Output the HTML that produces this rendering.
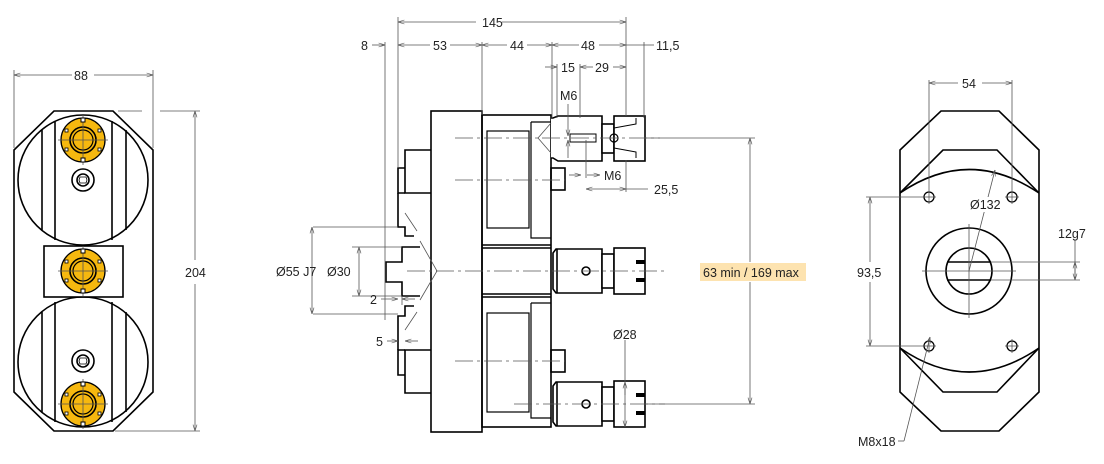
<!DOCTYPE html>
<html><head><meta charset="utf-8"><style>
html,body{margin:0;padding:0;background:#fff}
svg{display:block}
text{font-family:"Liberation Sans",Arial,sans-serif;font-size:12.5px;fill:#222}
.k{stroke:#000;stroke-width:1.6;fill:none}
.kf{stroke:#000;stroke-width:1.6;fill:#fff}
.d{stroke:#555;stroke-width:0.8;fill:none}
.c{stroke:#555;stroke-width:0.8;fill:none;stroke-dasharray:18 4 3 4}
.y{fill:#f6b80f;stroke:#000;stroke-width:1.3}
</style></head><body>
<svg width="1104" height="464" viewBox="0 0 1104 464" xmlns="http://www.w3.org/2000/svg">
<defs>
<marker id="a" viewBox="0 0 8 6" refX="8" refY="3" markerWidth="8" markerHeight="6" orient="auto-start-reverse"><path d="M0,0.5 L8,3 L0,5.5" fill="none" stroke="#555" stroke-width="0.8"/></marker>
<g id="fl">
<circle r="22" class="y"/>
<circle r="13" fill="#f6b80f" stroke="#000" stroke-width="1.6"/>
<circle r="10" fill="#f6b80f" stroke="#000" stroke-width="1.2"/>
<line x1="-25" y1="0" x2="25" y2="0" class="d"/><line x1="0" y1="-25" x2="0" y2="25" class="d"/>
<rect x="-2" y="-22" width="4" height="4" fill="#fff" stroke="#000"/><rect x="-2" y="18" width="4" height="4" fill="#fff" stroke="#000"/>
<rect x="-18" y="-11" width="3" height="3" fill="#fff" stroke="#000" stroke-width="0.8"/><rect x="15" y="-11" width="3" height="3" fill="#fff" stroke="#000" stroke-width="0.8"/>
<rect x="-18" y="8" width="3" height="3" fill="#fff" stroke="#000" stroke-width="0.8"/><rect x="15" y="8" width="3" height="3" fill="#fff" stroke="#000" stroke-width="0.8"/>
</g>
<g id="bolt"><circle r="11" class="k"/><circle r="6" class="k" stroke-width="1"/><path d="M-3,-3 L3,-3 L4,0 L3,3 L-3,3 L-4,0Z" fill="none" stroke="#000" stroke-width="0.8"/></g>
<g id="tool">
<path class="kf" d="M556,-22 L602,-22 L602,22 L556,22 L553,18 L553,-18Z"/>
<line x1="557" y1="-22" x2="557" y2="22" class="k" stroke-width="1"/>
<rect x="602" y="-17" width="12" height="34" class="kf"/>
<rect x="614" y="-23" width="31" height="46" class="kf"/>
<rect x="636" y="-11" width="9" height="4" fill="#000"/><rect x="636" y="7" width="9" height="4" fill="#000"/>
<circle cx="586" cy="0" r="4" class="k" stroke-width="1.3"/>
</g>
</defs>

<!-- LEFT VIEW -->
<path class="k" d="M54,111 L113,111 L153,150 L153,392 L113,431 L54,431 L14,392 L14,150Z"/>
<circle cx="83" cy="180" r="65" class="k"/>
<circle cx="83" cy="362" r="65" class="k"/>
<g class="k"><line x1="42" y1="130" x2="42" y2="230"/><line x1="55" y1="121" x2="55" y2="240"/><line x1="112" y1="121" x2="112" y2="240"/><line x1="126" y1="130" x2="126" y2="230"/>
<line x1="42" y1="312" x2="42" y2="412"/><line x1="55" y1="302" x2="55" y2="422"/><line x1="112" y1="302" x2="112" y2="422"/><line x1="126" y1="312" x2="126" y2="412"/></g>
<rect x="44" y="246" width="79" height="51" class="kf"/>
<use href="#fl" x="83" y="140"/><use href="#fl" x="83" y="271"/><use href="#fl" x="83" y="404"/>
<use href="#bolt" x="83" y="180"/><use href="#bolt" x="83" y="361"/>
<g class="d"><line x1="14" y1="70" x2="14" y2="148"/><line x1="153" y1="70" x2="153" y2="148"/>
<line x1="14" y1="75" x2="72" y2="75" marker-start="url(#a)"/><line x1="94" y1="75" x2="153" y2="75" marker-end="url(#a)"/>
<line x1="118" y1="111" x2="142" y2="111"/><line x1="160" y1="111" x2="200" y2="111"/><line x1="115" y1="431" x2="200" y2="431"/>
<line x1="195" y1="111" x2="195" y2="260" marker-start="url(#a)"/><line x1="195" y1="284" x2="195" y2="431" marker-end="url(#a)"/></g>
<text x="74" y="80">88</text><text x="185" y="277">204</text>

<!-- MIDDLE VIEW -->
<g class="k">
<rect x="431" y="111" width="51" height="321"/>
<rect x="482" y="115" width="69" height="312"/>
<line x1="482" y1="245" x2="551" y2="245"/><line x1="482" y1="248" x2="551" y2="248"/>
<line x1="482" y1="294" x2="551" y2="294"/><line x1="482" y1="297" x2="551" y2="297"/>
<path d="M531,122 L551,122 M531,122 L531,238 L551,238" stroke-width="1.2"/>
<rect x="487" y="131" width="42" height="97" stroke-width="1.2"/>
<path d="M531,303 L551,303 M531,303 L531,418 L551,418" stroke-width="1.2"/>
<rect x="487" y="313" width="42" height="99" stroke-width="1.2"/>
<rect x="551" y="168" width="14" height="22"/><rect x="551" y="350" width="14" height="22"/>
<path d="M431,150 L405,150 L405,193 L431,193"/><path d="M405,168 L398,168 L398,193 L405,193"/>
<path d="M431,350 L405,350 L405,393 L431,393"/><path d="M405,350 L398,350 L398,375 L405,375"/>
<path d="M398,193 L398,227 L405,227 L405,236 L414,236"/>
<path d="M398,350 L398,316 L405,316 L405,306 L414,306"/>
<path d="M420,247 L402,247 L402,262 L386,262 L386,282 L402,282 L402,296 L420,296"/>
</g>
<g class="d"><path d="M405,213 L417,231"/><path d="M420,241 L437,271 L420,300"/><path d="M405,330 L417,312"/></g>
<!-- top tool -->
<g class="k">
<path d="M551,118 L553,118 L558,116 L602,116 L602,161 L558,161 L553,158 L551,158" fill="#fff"/>
<rect x="602" y="124" width="12" height="29" fill="#fff"/>
<rect x="614" y="116" width="31" height="45" fill="#fff"/>
<path d="M614,128 L636,124 L636,118 M614,148 L636,152 L636,158" stroke-width="1"/>
<circle cx="614" cy="138" r="4" stroke-width="1.2"/>
<rect x="570" y="134" width="26" height="8" stroke-width="1"/>
</g>
<g class="d"><path d="M551,123 L538,138 L551,153"/></g>
<use href="#tool" y="271"/><use href="#tool" y="404"/>
<g class="c"><line x1="455" y1="138" x2="660" y2="138"/><line x1="455" y1="180" x2="565" y2="180"/><line x1="407" y1="271" x2="665" y2="271"/><line x1="455" y1="361" x2="565" y2="361"/><line x1="514" y1="404" x2="665" y2="404"/></g>
<g class="d">
<line x1="645" y1="138" x2="755" y2="138"/><line x1="645" y1="404" x2="755" y2="404"/>
<line x1="750" y1="138" x2="750" y2="262" marker-start="url(#a)"/><line x1="750" y1="282" x2="750" y2="404" marker-end="url(#a)"/>
<line x1="398" y1="17" x2="398" y2="168"/><line x1="626" y1="17" x2="626" y2="116"/>
<line x1="385" y1="42" x2="385" y2="320"/><line x1="482" y1="42" x2="482" y2="115"/><line x1="552" y1="42" x2="552" y2="118"/>
<line x1="644" y1="42" x2="644" y2="118"/><line x1="557" y1="64" x2="557" y2="118"/><line x1="580" y1="64" x2="580" y2="118"/>
<line x1="398" y1="22" x2="476" y2="22" marker-start="url(#a)"/><line x1="502" y1="22" x2="626" y2="22" marker-end="url(#a)"/>
<line x1="372" y1="45" x2="385" y2="45" marker-end="url(#a)"/>
<line x1="398" y1="45" x2="430" y2="45" marker-start="url(#a)"/><line x1="450" y1="45" x2="482" y2="45" marker-end="url(#a)"/>
<line x1="482" y1="45" x2="507" y2="45" marker-start="url(#a)"/><line x1="527" y1="45" x2="552" y2="45" marker-end="url(#a)"/>
<line x1="552" y1="45" x2="579" y2="45" marker-start="url(#a)"/><line x1="599" y1="45" x2="626" y2="45" marker-end="url(#a)"/>
<line x1="626" y1="45" x2="644" y2="45"/><line x1="644" y1="45" x2="654" y2="45"/>
<line x1="545" y1="67" x2="557" y2="67" marker-end="url(#a)"/>
<line x1="580" y1="67" x2="593" y2="67" marker-start="url(#a)"/><line x1="613" y1="67" x2="626" y2="67" marker-end="url(#a)"/>
<line x1="568" y1="104" x2="568" y2="136" marker-end="url(#a)"/><line x1="568" y1="158" x2="568" y2="140" marker-end="url(#a)"/>
<line x1="569" y1="175" x2="581" y2="175" marker-end="url(#a)"/><line x1="600" y1="175" x2="587" y2="175" marker-start="url(#a)" />
<line x1="586" y1="160" x2="586" y2="178"/><line x1="626" y1="160" x2="626" y2="192"/><line x1="586" y1="140" x2="586" y2="160"/>
<line x1="586" y1="189" x2="626" y2="189" marker-start="url(#a)" marker-end="url(#a)"/><line x1="626" y1="189" x2="648" y2="189"/>
<line x1="625" y1="340" x2="625" y2="427" marker-end="url(#a)"/><line x1="625" y1="395" x2="625" y2="382" marker-end="url(#a)"/>
<line x1="313" y1="227" x2="398" y2="227"/><line x1="313" y1="314" x2="398" y2="314"/>
<line x1="312" y1="227" x2="312" y2="314" marker-start="url(#a)" marker-end="url(#a)"/>
<line x1="352" y1="247" x2="402" y2="247"/><line x1="352" y1="296" x2="402" y2="296"/>
<line x1="359" y1="247" x2="359" y2="296" marker-start="url(#a)" marker-end="url(#a)"/>
<line x1="381" y1="299" x2="398" y2="299" marker-end="url(#a)"/><line x1="415" y1="299" x2="402" y2="299" marker-end="url(#a)"/>
<line x1="387" y1="341" x2="398" y2="341" marker-end="url(#a)"/><line x1="418" y1="341" x2="405" y2="341" marker-end="url(#a)"/>
<line x1="402" y1="296" x2="402" y2="305"/>
</g>
<rect x="700" y="263" width="106" height="18" fill="#fde3b0"/>
<text x="703" y="277">63 min / 169 max</text>
<text x="482" y="27">145</text><text x="361" y="50">8</text><text x="433" y="50">53</text><text x="510" y="50">44</text><text x="581" y="50">48</text><text x="656" y="50">11,5</text>
<text x="561" y="72">15</text><text x="595" y="72">29</text><text x="560" y="100">M6</text><text x="604" y="180">M6</text><text x="654" y="194">25,5</text><text x="613" y="339">Ø28</text>
<text x="276" y="276">Ø55 J7</text><text x="327" y="276">Ø30</text><text x="370" y="304">2</text><text x="376" y="346">5</text>

<!-- RIGHT VIEW -->
<g class="k">
<path d="M941,111 L999,111 L1039,150 L1039,392 L999,431 L941,431 L900,392 L900,150Z"/>
<path d="M900,193 L943,150 L997,150 L1039,193"/><path d="M900,193 Q969,146 1039,193"/>
<path d="M900,348 L943,392 L997,392 L1039,348"/><path d="M900,348 Q969,396 1039,348"/>
<circle cx="969" cy="271" r="43"/><circle cx="969" cy="271" r="23"/>
<line x1="947" y1="262" x2="991" y2="262"/><line x1="947" y1="280" x2="991" y2="280"/>
</g>
<g stroke="#000" stroke-width="1.3" fill="none"><circle cx="929" cy="197" r="5"/><circle cx="1012" cy="197" r="5"/><circle cx="929" cy="346" r="5"/><circle cx="1012" cy="346" r="5"/></g>
<g class="d">
<line x1="922" y1="197" x2="936" y2="197"/><line x1="929" y1="190" x2="929" y2="204"/><line x1="1005" y1="197" x2="1019" y2="197"/><line x1="1012" y1="190" x2="1012" y2="204"/>
<line x1="922" y1="346" x2="936" y2="346"/><line x1="929" y1="339" x2="929" y2="353"/><line x1="1005" y1="346" x2="1019" y2="346"/><line x1="1012" y1="339" x2="1012" y2="353"/>
<line x1="922" y1="271" x2="1016" y2="271"/><line x1="969" y1="224" x2="969" y2="318"/>
<line x1="929" y1="80" x2="929" y2="190"/><line x1="1012" y1="80" x2="1012" y2="190"/>
<line x1="929" y1="83" x2="958" y2="83" marker-start="url(#a)"/><line x1="982" y1="83" x2="1012" y2="83" marker-end="url(#a)"/>
<line x1="866" y1="197" x2="922" y2="197"/><line x1="866" y1="346" x2="922" y2="346"/>
<line x1="870" y1="197" x2="870" y2="262" marker-start="url(#a)"/><line x1="870" y1="282" x2="870" y2="346" marker-end="url(#a)"/>
<line x1="991" y1="262" x2="1080" y2="262"/><line x1="991" y1="280" x2="1080" y2="280"/>
<line x1="1075" y1="240" x2="1075" y2="280" marker-end="url(#a)"/><line x1="1075" y1="280" x2="1075" y2="262" marker-end="url(#a)"/>
<line x1="969" y1="271" x2="995" y2="170" marker-end="url(#a)"/>
<line x1="898" y1="441" x2="904" y2="441"/><line x1="904" y1="441" x2="930" y2="337" marker-end="url(#a)"/>
</g>
<rect x="970" y="197" width="34" height="15" fill="#fff"/>
<text x="962" y="83" dy="5">54</text><text x="970" y="209">Ø132</text><text x="1058" y="238">12g7</text><text x="857" y="277">93,5</text><text x="858" y="446">M8x18</text>
</svg>
</body></html>
